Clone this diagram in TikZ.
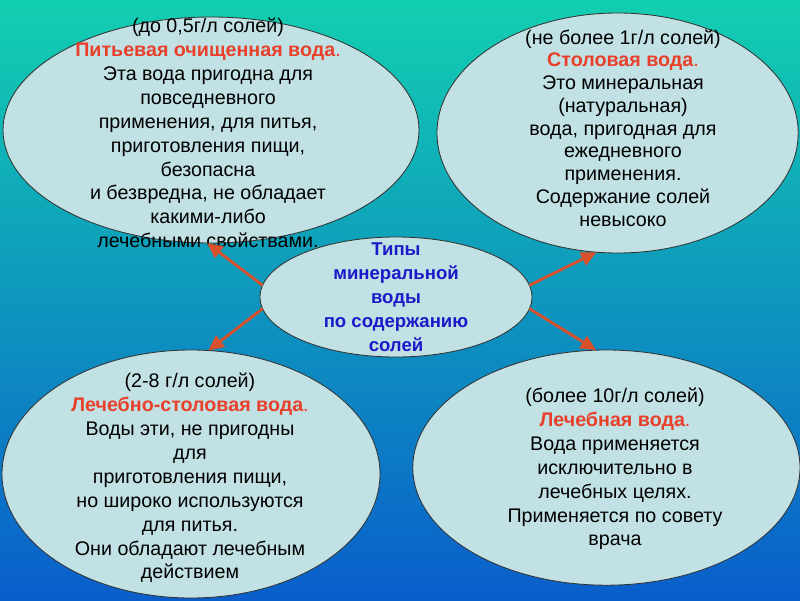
\documentclass[tikz,border=0pt]{standalone}
\usepackage{fontspec}
\setmainfont{Liberation Sans}
\usepackage{tikz}
\usetikzlibrary{arrows.meta,shapes.geometric}

\definecolor{seatop}{HTML}{12CFB0}
\definecolor{seamid}{HTML}{14ABDF}
\definecolor{seabot}{HTML}{0A5ECB}
\definecolor{bubble}{HTML}{C2E1E4}
\definecolor{arrred}{HTML}{D9502A}
\definecolor{headred}{HTML}{E8402A}
\definecolor{titleblue}{HTML}{1A1AC8}

\tikzset{
  bubble/.style={ellipse,draw=black!80,line width=0.6pt,fill=bubble,inner sep=0pt,outer sep=0pt},
  txt/.style={align=center,font=\fontsize{14}{17}\selectfont},
  arr/.style={-{Triangle[length=11pt,width=10pt]},arrred,line width=2pt},
}

\begin{document}
\begin{tikzpicture}
\fill[top color=seatop,middle color=seamid,bottom color=seabot] (0,0) rectangle (20,15);
\useasboundingbox (0,0) rectangle (20,15);

\node[bubble,minimum width=10.4cm,minimum height=5.65cm] (tl) at (5.275,11.75) {};
\node[bubble,minimum width=9.03cm,minimum height=6.0cm] (tr) at (15.44,11.675) {};
\node[bubble,minimum width=9.45cm,minimum height=6.2cm] (bl) at (4.775,3.15) {};
\node[bubble,minimum width=9.68cm,minimum height=5.88cm] (br) at (15.16,3.31) {};
\node[bubble,minimum width=6.8cm,minimum height=3.0cm] (ctr) at (9.9,7.575) {};

\node[txt] (tltext) at (5.2,11.675) {(до 0,5г/л солей)\\
  \textcolor{headred}{\textbf{Питьевая очищенная вода}.}\\
  Эта вода пригодна для\\ повседневного\\ применения, для питья,\\
  приготовления пищи,\\ безопасна\\ и безвредна, не обладает\\
  какими-либо\\ лечебными свойствами.};
\node[txt,font=\fontsize{14}{16.2}\selectfont] (trtext) at (15.575,11.8) {(не более 1г/л солей)\\
  \textcolor{headred}{\textbf{Столовая вода}.}\\
  Это минеральная\\ (натуральная)\\ вода, пригодная для\\
  ежедневного\\ применения.\\ Содержание солей\\ невысоко};
\node[txt] (bltext) at (4.75,3.05) {(2-8 г/л солей)\\
  \textcolor{headred}{\textbf{Лечебно-столовая вода}.}\\
  Воды эти, не пригодны\\ для\\ приготовления пищи,\\
  но широко используются\\ для питья.\\ Они обладают лечебным\\ действием};
\node[txt] (brtext) at (15.375,3.275) {(более 10г/л солей)\\
  \textcolor{headred}{\textbf{Лечебная вода}.}\\
  Вода применяется\\ исключительно в\\ лечебных целях.\\
  Применяется по совету\\ врача};
\node[txt,text=titleblue,font=\bfseries\fontsize{13.2}{17}\selectfont] (ctrtext) at (9.9,7.575)
  {Типы\\ минеральной\\ воды\\ по содержанию\\ солей};

% arrows out of the centre
\draw[arr] (ctr.175) -- (tl.268);
\draw[arr] (ctr.5) -- (tr.260);
\draw[arr] (ctr.185) -- (bl.82);
\draw[arr] (ctr.355) -- (br.95);
\end{tikzpicture}
\end{document}
